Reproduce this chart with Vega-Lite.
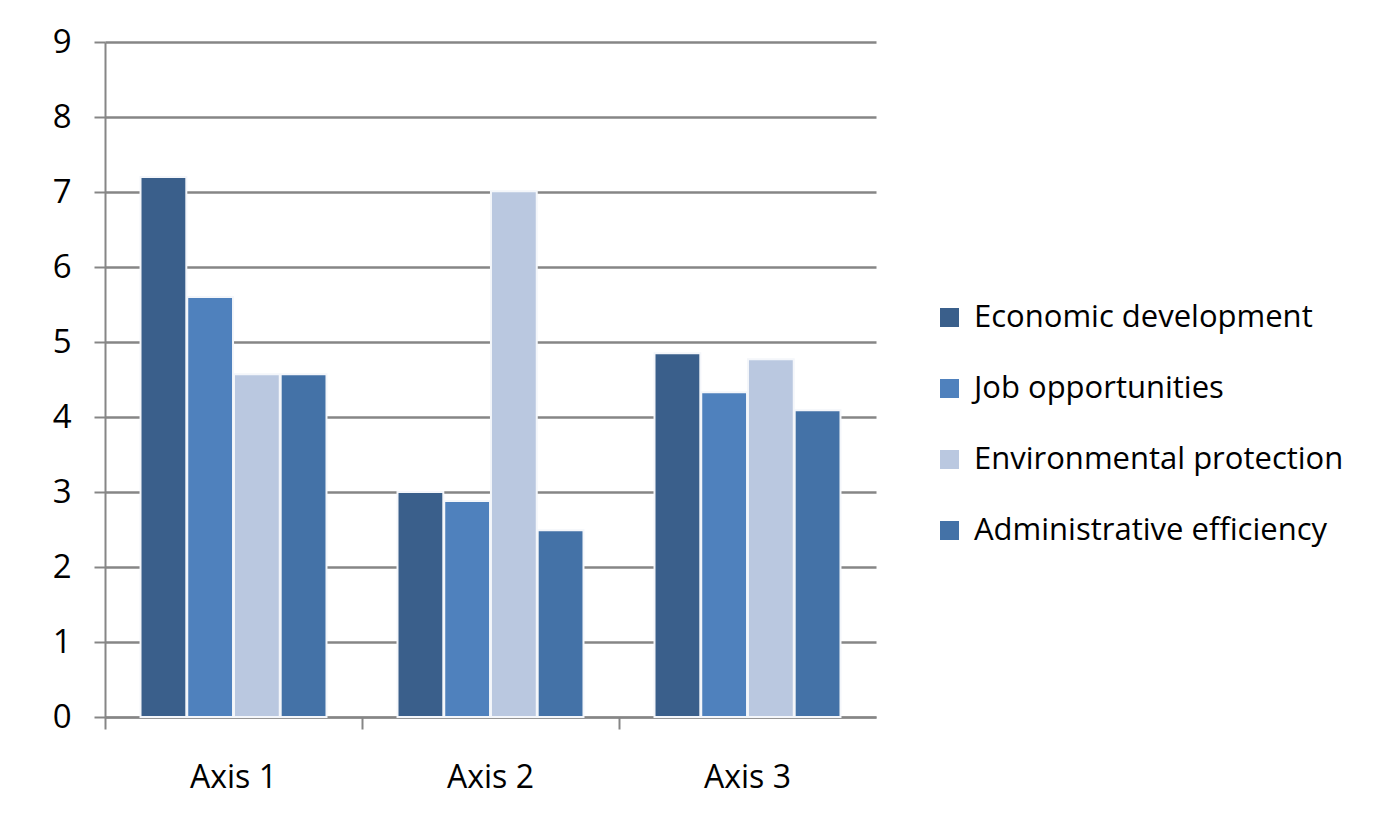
{
  "$schema": "https://vega.github.io/schema/vega-lite/v6.json",
  "width": 771,
  "height": 675,
  "autosize": {"type": "none"},
  "padding": {"left": 105, "top": 42, "right": 517, "bottom": 108},
  "background": "white",
  "data": {
    "values": [
      {"axis": "Axis 1", "series": "Economic development", "value": 7.2},
      {"axis": "Axis 1", "series": "Job opportunities", "value": 5.6},
      {"axis": "Axis 1", "series": "Environmental protection", "value": 4.57},
      {"axis": "Axis 1", "series": "Administrative efficiency", "value": 4.57},
      {"axis": "Axis 2", "series": "Economic development", "value": 3.0},
      {"axis": "Axis 2", "series": "Job opportunities", "value": 2.88},
      {"axis": "Axis 2", "series": "Environmental protection", "value": 7.01},
      {"axis": "Axis 2", "series": "Administrative efficiency", "value": 2.49},
      {"axis": "Axis 3", "series": "Economic development", "value": 4.85},
      {"axis": "Axis 3", "series": "Job opportunities", "value": 4.33},
      {"axis": "Axis 3", "series": "Environmental protection", "value": 4.77},
      {"axis": "Axis 3", "series": "Administrative efficiency", "value": 4.09}
    ]
  },
  "mark": {"type": "bar", "stroke": "#F4F6FA", "strokeWidth": 2},
  "encoding": {
    "x": {
      "field": "axis",
      "type": "nominal",
      "title": null,
      "scale": {"paddingInner": 0, "paddingOuter": 0},
      "axis": {
        "labelAngle": 0,
        "bandPosition": 0,
        "labelFont": "Open Sans",
        "labelFontSize": 32,
        "labelColor": "#000000",
        "labelPadding": 33,
        "labelOffset": 0,
        "tickColor": "#868686",
        "tickWidth": 2,
        "tickSize": 12,
        "domainColor": "#868686",
        "domainWidth": 2,
        "grid": false
      }
    },
    "xOffset": {
      "field": "series",
      "type": "nominal",
      "sort": ["Economic development", "Job opportunities", "Environmental protection", "Administrative efficiency"],
      "scale": {"paddingOuter": 0.76, "paddingInner": 0.02}
    },
    "y": {
      "field": "value",
      "type": "quantitative",
      "title": null,
      "scale": {"domain": [0, 9], "nice": false},
      "axis": {
        "values": [0, 1, 2, 3, 4, 5, 6, 7, 8, 9],
        "labelFont": "Open Sans",
        "labelFontSize": 33,
        "labelColor": "#000000",
        "labelPadding": 23,
        "tickColor": "#868686",
        "tickWidth": 2,
        "tickSize": 11,
        "domainColor": "#868686",
        "domainWidth": 2,
        "gridColor": "#868686",
        "gridWidth": 2.5,
        "grid": true
      }
    },
    "color": {
      "field": "series",
      "type": "nominal",
      "sort": ["Economic development", "Job opportunities", "Environmental protection", "Administrative efficiency"],
      "scale": {
        "domain": ["Economic development", "Job opportunities", "Environmental protection", "Administrative efficiency"],
        "range": ["#3A5F8B", "#4F81BD", "#BAC8E0", "#4472A7"]
      },
      "legend": {
        "title": null,
        "orient": "none",
        "legendX": 829,
        "legendY": 260,
        "symbolType": "square",
        "symbolSize": 361,
        "symbolStrokeWidth": 0,
        "labelFont": "Open Sans",
        "labelFontSize": 31,
        "labelColor": "#000000",
        "labelOffset": 9,
        "rowPadding": 39,
        "labelLimit": 500
      }
    }
  },
  "config": {
    "view": {"stroke": null}
  }
}
